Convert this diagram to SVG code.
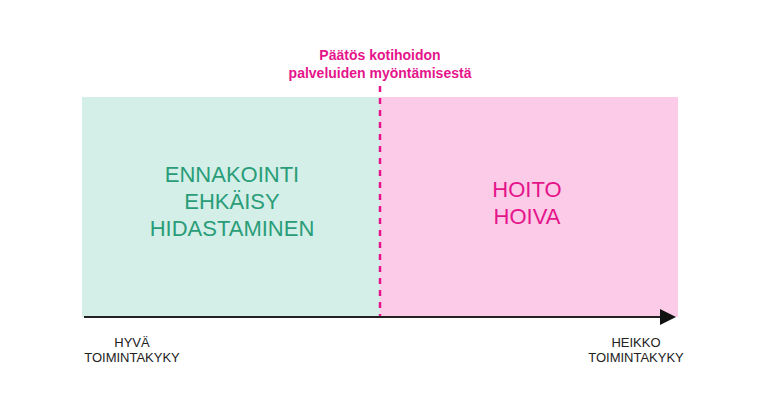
<svg xmlns="http://www.w3.org/2000/svg" width="760" height="400" viewBox="0 0 760 400">
<style>
text{font-family:"Liberation Sans",Arial,sans-serif;text-anchor:middle}
.title{font-size:14px;font-weight:bold;fill:#e5148b}
.green{font-size:22px;fill:#2a9d78}
.pink{font-size:22px;fill:#e5148b}
.axis{font-size:13px;fill:#222}
</style>
<defs>
<marker id="arrow" markerWidth="8" markerHeight="8" refX="0" refY="4" orient="auto" markerUnits="userSpaceOnUse" viewBox="0 0 8 8">
<path d="M0,0 L8,4 L0,8 Z" fill="#111"/>
</marker>
</defs>
<g id="title">
<text class="title" x="380" y="60">Päätös kotihoidon</text>
<text class="title" x="380" y="78">palveluiden myöntämisestä</text>
</g>
<g id="prevention">
<rect x="82" y="97" width="298" height="220" fill="#d3efe8"/>
<text class="green" x="232" y="182">ENNAKOINTI</text>
<text class="green" x="232" y="209">EHKÄISY</text>
<text class="green" x="232" y="236">HIDASTAMINEN</text>
</g>
<g id="care">
<rect x="380" y="97" width="298" height="220" fill="#fccbe8"/>
<text class="pink" x="527" y="197">HOITO</text>
<text class="pink" x="527" y="224">HOIVA</text>
</g>
<g id="connectors">
<line x1="380" y1="86" x2="380" y2="316" stroke="#e5148b" stroke-width="2.5" stroke-dasharray="6,6"/>
<path d="M84,317 L660,317" stroke="#222" stroke-width="2" fill="none"/>
<path d="M660,309 L676,317 L660,325 Z" fill="#111"/>
</g>
<g id="axis-labels">
<text class="axis" x="132" y="347">HYVÄ</text>
<text class="axis" x="132" y="362">TOIMINTAKYKY</text>
<text class="axis" x="636" y="347">HEIKKO</text>
<text class="axis" x="636" y="362">TOIMINTAKYKY</text>
</g>
</svg>
